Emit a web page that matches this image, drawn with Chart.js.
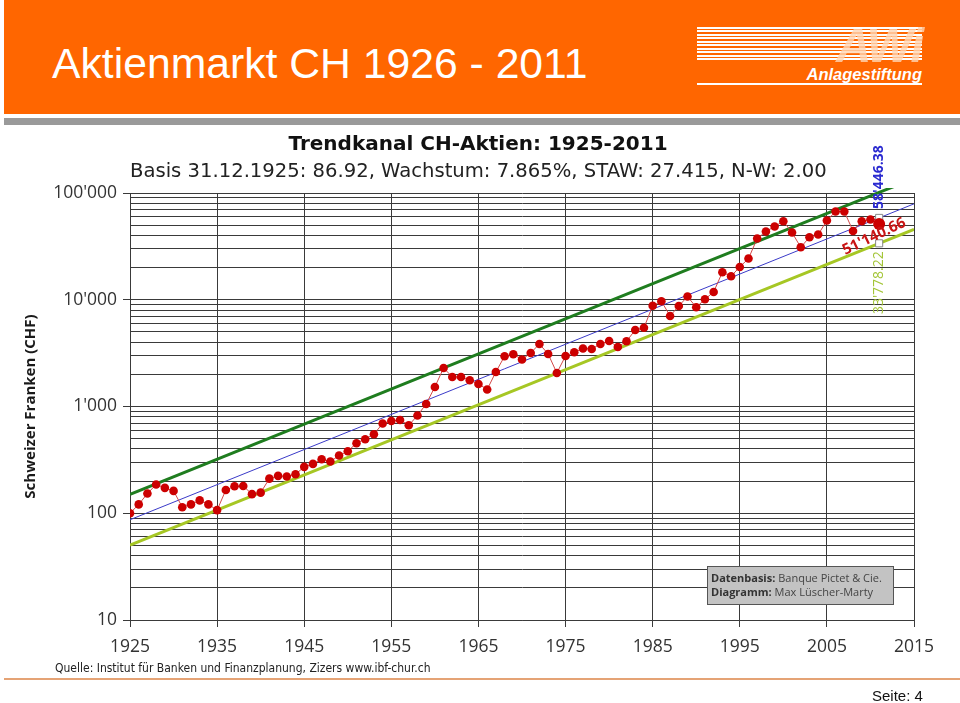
<!DOCTYPE html>
<html lang="de">
<head>
<meta charset="utf-8">
<title>Aktienmarkt CH 1926 - 2011</title>
<script src="https://cdn.jsdelivr.net/npm/chart.js@4/dist/chart.umd.min.js"></script>
<style>
  body { margin: 0; background: #fff; }
  #seite { position: relative; width: 960px; height: 703px; overflow: hidden; font-family: "Liberation Sans", Arial, sans-serif; }
  #grafik { position: absolute; left: 0; top: 0; }
  .kopf { position: absolute; left: 4px; top: 0; width: 956px; height: 114px; background: #ff6600; }
  .kopf-linie { position: absolute; left: 4px; top: 118px; width: 956px; height: 7px; background: #9a9a9a; }
  .titel { position: absolute; left: 52px; top: 39px; color: #fff; font-size: 42.7px; line-height: 48px; white-space: nowrap; }
  .logo-streifen { position: absolute; left: 697px; top: 27px; width: 225px; height: 35px;
    background: repeating-linear-gradient(to bottom, #fff 0 2px, rgba(255,255,255,0) 2px 3.5px); }
  .logo-awi { position: absolute; right: 38px; top: 17px; font: italic bold 49px/56px "Liberation Sans", Arial, sans-serif; color: rgba(255, 214, 180, 0.8); letter-spacing: -2px; }
  .logo-text { position: absolute; right: 38px; top: 64px; font: italic bold 16.5px/20px "Liberation Sans", Arial, sans-serif; color: #fff; }
  .logo-linie { position: absolute; left: 697px; top: 83px; width: 225px; height: 2px; background: #fff; }
  .quelle { position: absolute; left: 55px; top: 661px; font: 12px/14px "DejaVu Sans Condensed", "DejaVu Sans", sans-serif; color: #222; white-space: nowrap; }
  .fuss-linie { position: absolute; left: 4px; top: 678px; width: 956px; height: 2px; background: #e5a375; }
  .seitenzahl { position: absolute; left: 872px; top: 687px; font: 15px/17px "Liberation Sans", Arial, sans-serif; color: #111; }
</style>
</head>
<body>
<div id="seite">
  <canvas id="grafik" width="960" height="703"></canvas>
  <div class="kopf"></div>
  <div class="kopf-linie"></div>
  <div class="titel">Aktienmarkt CH 1926 - 2011</div>
  <div class="logo-streifen"></div>
  <div class="logo-awi">AWi</div>
  <div class="logo-text">Anlagestiftung</div>
  <div class="logo-linie"></div>
  <div class="quelle">Quelle: Institut für Banken und Finanzplanung, Zizers www.ibf-chur.ch</div>
  <div class="fuss-linie"></div>
  <div class="seitenzahl">Seite: 4</div>
</div>
<script>
// Indexwerte (CHF) per Jahresende
const indexWerte = [
  100, 121, 153, 186, 173, 162, 114, 121, 132, 121,
  107, 165, 179, 180, 151, 156, 211, 224, 221, 232,
  272, 290, 321, 305, 347, 381, 453, 494, 550, 692,
  732, 748, 667, 823, 1057, 1525, 2297, 1892, 1892, 1762,
  1627, 1442, 2107, 2955, 3086, 2753, 3173, 3854, 3106, 2062,
  2975, 3222, 3491, 3460, 3854, 4111, 3613, 4085, 5214, 5467,
  8785, 9683, 7051, 8747, 10715, 8505, 10108, 11833, 18094, 16603,
  20296, 24312, 37448, 43550, 48503, 54372, 42614, 31023, 38515, 40820,
  55193, 67040, 67040, 44117, 54372, 56397, 51140.66
];
const jahre = indexWerte.map((_, i) => 1925 + i);

// Trendkanal: Start 1925, Stand 2011, Ende 2015
const trendJahre = [1925, 2011, 2015];
const trendMitte = [86.92, 58446.38, 79120];
const trendOben = [150.4, 101130, 136900];
const trendUnten = [50.23, 33778.22, 45730];

const xTickWerte = [1925, 1935, 1945, 1955, 1965, 1975, 1985, 1995, 2005, 2015];
const yTickWerte = [10, 100, 1000, 10000, 100000];
const yTickTexte = ['10', '100', "1'000", "10'000", "100'000"];

const gitterFarbe = '#3a3a3a';

// Hilfslinien bei 1..9 x 10^n
const yGitter = [];
for (let i = 0; i < yTickWerte.length - 1; i++) {
    for (let m = 1; m < 10; m++) yGitter.push(yTickWerte[i] * m);
}
yGitter.push(yTickWerte[yTickWerte.length - 1]);

const punkte = (xs, ys) => xs.map((x, i) => ({ x: x, y: ys[i] }));
const letzter = indexWerte.length - 1;

const beschriftung = {
    id: 'beschriftung',
    afterDraw(chart) {
        const ctx = chart.ctx;
        const xs = chart.scales.x;
        const ys = chart.scales.y;
        const area = chart.chartArea;
        ctx.save();

        // Titel
        ctx.fillStyle = '#111';
        ctx.textBaseline = 'alphabetic';
        ctx.textAlign = 'center';
        ctx.font = 'bold 20px "DejaVu Sans"';
        ctx.fillText('Trendkanal CH-Aktien: 1925-2011', 478, 150);
        ctx.textAlign = 'left';
        ctx.font = '19.6px "DejaVu Sans"';
        ctx.fillStyle = '#222';
        ctx.fillText('Basis 31.12.1925: 86.92, Wachstum: 7.865%, STAW: 27.415, N-W: 2.00', area.left, 177);

        // Werte am Ende 2011
        const x11 = xs.getPixelForValue(trendJahre[1]);
        ctx.save();
        ctx.translate(x11, ys.getPixelForValue(trendMitte[1]) - 9);
        ctx.rotate(-Math.PI / 2);
        ctx.font = 'bold 14px "Open Sans"';
        ctx.fillStyle = '#2a2ad0';
        ctx.textAlign = 'left';
        ctx.textBaseline = 'middle';
        ctx.fillText("58'446.38", 0, 0);
        ctx.restore();

        ctx.save();
        ctx.translate(x11, ys.getPixelForValue(trendUnten[1]) + 8);
        ctx.rotate(-Math.PI / 2);
        ctx.font = '14px "Open Sans"';
        ctx.fillStyle = '#a3c537';
        ctx.textAlign = 'right';
        ctx.textBaseline = 'middle';
        ctx.fillText("33'778.22", 0, 0);
        ctx.restore();

        ctx.save();
        ctx.translate(xs.getPixelForValue(jahre[letzter]) - 34, ys.getPixelForValue(indexWerte[letzter]) + 31);
        ctx.rotate(-0.445);
        ctx.font = 'bold 15px "Open Sans"';
        ctx.fillStyle = '#c81414';
        ctx.textAlign = 'left';
        ctx.textBaseline = 'alphabetic';
        ctx.fillText("51'140.66", 0, 0);
        ctx.restore();

        // Quellenbox
        const bx = area.right - 207, by = area.bottom - 54;
        ctx.fillStyle = '#c3c3c3';
        ctx.fillRect(bx, by, 186, 38);
        ctx.strokeStyle = '#555';
        ctx.lineWidth = 1;
        ctx.strokeRect(bx + 0.5, by + 0.5, 186, 38);
        const zeile = (fett, rest, y) => {
            ctx.font = 'bold 11px "Open Sans"';
            ctx.fillStyle = '#333';
            ctx.fillText(fett, bx + 4, y);
            const w = ctx.measureText(fett).width;
            ctx.font = '11px "Open Sans"';
            ctx.fillStyle = '#444';
            ctx.fillText(rest, bx + 4 + w, y);
        };
        ctx.textAlign = 'left';
        ctx.textBaseline = 'alphabetic';
        zeile('Datenbasis:', ' Banque Pictet & Cie.', by + 16);
        zeile('Diagramm:', ' Max Lüscher-Marty', by + 30);
        ctx.restore();
    }
};

new Chart(document.getElementById('grafik'), {
    type: 'line',
    data: {
        datasets: [
            {
                label: 'Aktienindex CH',
                data: punkte(jahre, indexWerte),
                borderColor: '#d24848',
                borderWidth: 1,
                pointRadius: jahre.map((_, i) => i === letzter ? 6 : 4.3),
                pointBackgroundColor: '#cc0000',
                pointBorderWidth: 0,
                order: 0
            },
            {
                label: 'Trend',
                data: punkte(trendJahre, trendMitte),
                borderColor: '#3a3ac8',
                borderWidth: 1,
                pointRadius: [0, 5, 0],
                pointStyle: 'rect',
                pointBackgroundColor: '#fff',
                pointBorderColor: '#888',
                pointBorderWidth: 1,
                order: 1
            },
            {
                label: 'Obergrenze',
                data: punkte(trendJahre, trendOben),
                borderColor: '#1f7d1f',
                borderWidth: 3,
                pointRadius: 0,
                clip: { left: 0, top: 5, right: 0, bottom: 0 },
                order: 2
            },
            {
                label: 'Untergrenze',
                data: punkte(trendJahre, trendUnten),
                borderColor: '#a6c724',
                borderWidth: 3,
                pointRadius: [0, 5, 0],
                pointStyle: 'rect',
                pointBackgroundColor: '#fff',
                pointBorderColor: '#888',
                pointBorderWidth: 1,
                order: 3
            }
        ]
    },
    options: {
        responsive: false,
        animation: false,
        events: [],
        layout: { padding: { left: 18, right: 46, top: 193, bottom: 0 } },
        plugins: {
            legend: { display: false },
            tooltip: { enabled: false }
        },
        scales: {
            x: {
                type: 'linear',
                min: 1925,
                max: 2015,
                afterBuildTicks: (scale) => { scale.ticks = xTickWerte.map(v => ({ value: v })); },
                afterFit: (scale) => { scale.height = 83; },
                ticks: {
                    autoSkip: false,
                    maxRotation: 0,
                    padding: 10,
                    color: '#333',
                    font: { family: 'Open Sans', size: 17.5 },
                    callback: (v) => String(v)
                },
                grid: { color: gitterFarbe, tickLength: 7, tickColor: gitterFarbe },
                border: { display: true, color: gitterFarbe }
            },
            y: {
                type: 'logarithmic',
                min: 10,
                max: 100000,
                afterBuildTicks: (scale) => { scale.ticks = yGitter.map(v => ({ value: v, major: yTickWerte.includes(v) })); },
                afterFit: (scale) => { scale.width = 112; },
                ticks: {
                    autoSkip: false,
                    padding: 6,
                    color: '#333',
                    font: { family: 'Open Sans', size: 17.5 },
                    callback: (v) => {
                        const i = yTickWerte.indexOf(v);
                        return i >= 0 ? yTickTexte[i] : '';
                    }
                },
                grid: {
                    color: gitterFarbe,
                    tickLength: 7,
                    tickColor: (c) => (c.tick && yTickWerte.includes(c.tick.value)) ? gitterFarbe : 'rgba(0,0,0,0)'
                },
                border: { display: true, color: gitterFarbe },
                title: {
                    display: true,
                    text: 'Schweizer Franken (CHF)',
                    color: '#1a1a1a',
                    font: { family: 'Open Sans', size: 15, weight: 'bold' },
                    padding: { top: 4, bottom: 4 }
                }
            }
        }
    },
    plugins: [beschriftung]
});
</script>
</body>
</html>
